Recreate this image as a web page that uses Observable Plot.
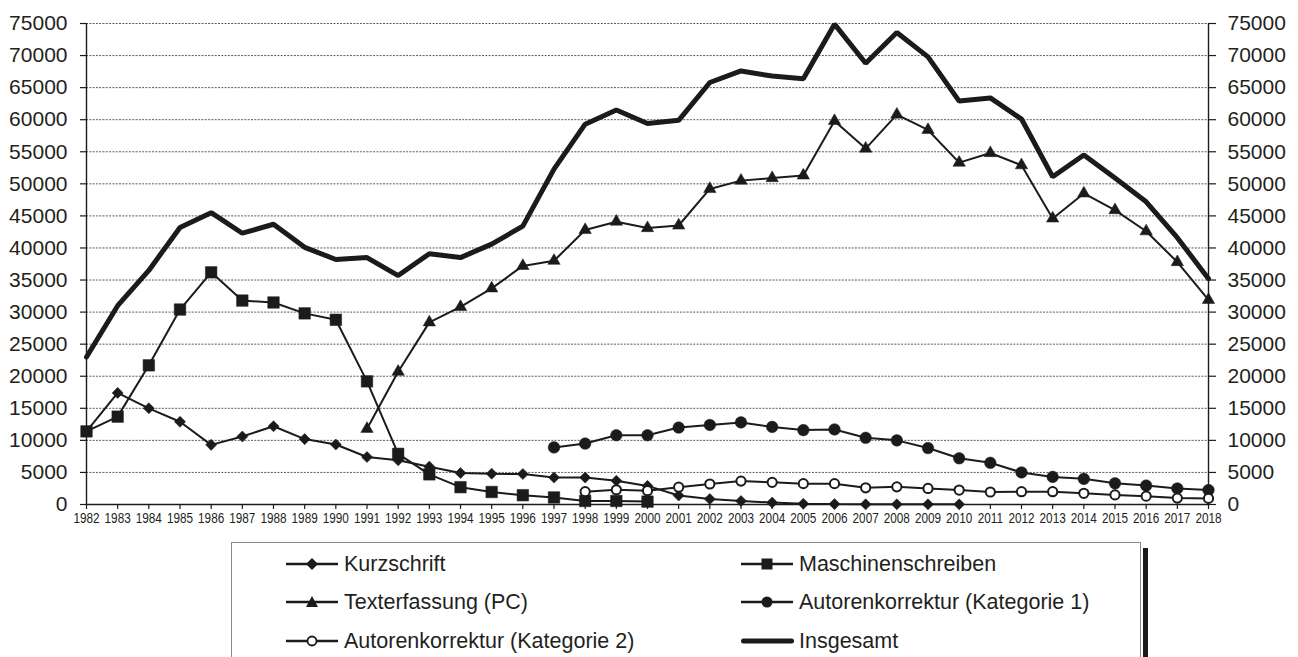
<!DOCTYPE html>
<html>
<head>
<meta charset="utf-8">
<script src="https://cdn.jsdelivr.net/npm/d3@7"></script>
<script src="https://cdn.jsdelivr.net/npm/@observablehq/plot@0.6"></script>
<style>
  html, body { margin: 0; padding: 0; background: #fff; overflow: hidden; }
  body { width: 1298px; height: 657px; position: relative; font-family: "Liberation Sans", Arial, sans-serif; color: #231f20; }
  #chart { position: absolute; left: 0; top: 0; }
  #legend { position: absolute; left: 231px; top: 542px; width: 910px; height: 140px; border: 1px solid #8a8a8a; box-sizing: border-box; }
  #legbar { position: absolute; left: 1143px; top: 548px; width: 5px; height: 120px; background: #1a1a1a; }
  .item { position: absolute; height: 24px; display: flex; align-items: center; font-size: 21.5px; white-space: nowrap; }
  .item svg { display: block; margin-right: 5px; }
</style>
</head>
<body>
<div id="chart"></div>
<div id="legend"></div>
<div id="legbar"></div>
<script>
// ---- data ----
const years = [1982,1983,1984,1985,1986,1987,1988,1989,1990,1991,1992,1993,1994,1995,1996,1997,1998,1999,2000,2001,2002,2003,2004,2005,2006,2007,2008,2009,2010,2011,2012,2013,2014,2015,2016,2017,2018];
const yTicks = [0,5000,10000,15000,20000,25000,30000,35000,40000,45000,50000,55000,60000,65000,70000,75000];

const kurzschrift = [11400,17400,15000,12900,9300,10600,12200,10200,9350,7400,6900,5900,4900,4800,4750,4200,4200,3700,2900,1400,850,550,300,120,60,30,30,30,30,null,null,null,null,null,null,null,null];
const maschinenschreiben = [11400,13700,21700,30400,36200,31800,31500,29800,28800,19200,7900,4700,2700,1950,1450,1100,550,550,450,null,null,null,null,null,null,null,null,null,null,null,null,null,null,null,null,null,null];
const texterfassung = [null,null,null,null,null,null,null,null,null,11800,20700,28400,30800,33700,37200,38000,42800,44100,43100,43500,49200,50500,50900,51300,59800,55500,60800,58400,53300,54800,52900,44600,48500,45900,42600,37800,31900];
const autorenKat1 = [null,null,null,null,null,null,null,null,null,null,null,null,null,null,null,8900,9500,10800,10800,12000,12400,12800,12100,11600,11700,10400,10000,8800,7200,6500,5000,4300,4000,3300,2950,2500,2250];
const autorenKat2 = [null,null,null,null,null,null,null,null,null,null,null,null,null,null,null,null,2000,2300,2150,2700,3200,3650,3450,3250,3250,2600,2750,2500,2250,1950,2000,2000,1750,1500,1300,1000,950];
const insgesamt = [23000,31000,36500,43200,45500,42300,43700,40100,38200,38500,35700,39100,38500,40600,43400,52300,59300,61500,59400,59900,65800,67600,66800,66400,74900,68800,73600,69800,62900,63400,60100,51100,54500,50900,47200,41600,35200];

const seriesNames = ["Kurzschrift","Maschinenschreiben","Texterfassung (PC)","Autorenkorrektur (Kategorie 1)","Autorenkorrektur (Kategorie 2)","Insgesamt"];

const ink = "#1c1a1a";
const toRows = arr => years.map((year, i) => ({year, v: arr[i]})).filter(d => d.v != null);

const kz = toRows(kurzschrift), ms = toRows(maschinenschreiben), tx = toRows(texterfassung),
      k1 = toRows(autorenKat1), k2 = toRows(autorenKat2), ins = toRows(insgesamt);

const lineOpts = {x: "year", y: "v", stroke: ink, strokeWidth: 2, strokeLinejoin: "miter"};

const chart = Plot.plot({
  width: 1298,
  height: 535,
  marginTop: 23,
  marginBottom: 31,
  marginLeft: 86,
  marginRight: 90,
  x: {domain: [1982, 2018], axis: null},
  y: {domain: [0, 75000], axis: null},
  style: {fontFamily: "'Liberation Sans', Arial, sans-serif", color: "#231f20", background: "white", overflow: "visible"},
  marks: [
    Plot.gridY(yTicks, {stroke: "#5a5a5a", strokeOpacity: 1, strokeWidth: 1, strokeDasharray: "2,1.3"}),
    Plot.axisY(yTicks, {anchor: "left", tickSize: 6, tickPadding: 13, fontSize: 21, tickFormat: d => String(d), label: null, stroke: ink, strokeWidth: 1.2}),
    Plot.axisY(yTicks, {anchor: "right", tickSize: 7, tickPadding: 12, fontSize: 21, tickFormat: d => String(d), label: null, stroke: ink, strokeWidth: 1.2}),
    Plot.axisX(years, {anchor: "bottom", tickSize: 5, tickPadding: 2, fontSize: 15.5, tickFormat: d => String(d), label: null, stroke: ink, strokeWidth: 1.2}),
    Plot.ruleX([1982, 2018], {stroke: ink, strokeWidth: 1.4}),
    Plot.ruleY([0], {stroke: ink, strokeWidth: 1.4}),
    // Kurzschrift
    Plot.line(kz, lineOpts),
    Plot.dot(kz, {x: "year", y: "v", symbol: "diamond2", r: 5, fill: ink, stroke: ink, strokeWidth: 0.5}),
    // Maschinenschreiben
    Plot.line(ms, lineOpts),
    Plot.dot(ms, {x: "year", y: "v", symbol: "square", r: 6.5, fill: ink, stroke: ink, strokeWidth: 0.5}),
    // Texterfassung
    Plot.line(tx, lineOpts),
    Plot.dot(tx, {x: "year", y: "v", symbol: "triangle", r: 4.6, fill: ink, stroke: ink, strokeWidth: 0.5}),
    // Autorenkorrektur Kat 1
    Plot.line(k1, lineOpts),
    Plot.dot(k1, {x: "year", y: "v", symbol: "circle", r: 5.8, fill: ink, stroke: ink, strokeWidth: 0.5}),
    // Autorenkorrektur Kat 2
    Plot.line(k2, lineOpts),
    Plot.dot(k2, {x: "year", y: "v", symbol: "circle", r: 4.6, fill: "white", stroke: ink, strokeWidth: 2}),
    // Insgesamt
    Plot.line(ins, {x: "year", y: "v", stroke: ink, strokeWidth: 5, strokeLinejoin: "miter"})
  ]
});
document.getElementById("chart").appendChild(chart);

// condense the year tick labels horizontally (as in the reference)
chart.querySelectorAll('g[aria-label="x-axis tick label"] text').forEach(t => {
  const tr = t.getAttribute("transform") || "";
  t.setAttribute("transform", tr + " scale(0.76,1)");
});

// ---- legend ----
const legend = document.getElementById("legend");
const sw = {
  "Kurzschrift": '<polygon points="26,2 32,8 26,14 20,8" fill="' + ink + '"/>',
  "Maschinenschreiben": '<rect x="20.5" y="2.5" width="11" height="11" fill="' + ink + '"/>',
  "Texterfassung (PC)": '<polygon points="26,2 32,13 20,13" fill="' + ink + '"/>',
  "Autorenkorrektur (Kategorie 1)": '<circle cx="26" cy="8" r="5.5" fill="' + ink + '"/>',
  "Autorenkorrektur (Kategorie 2)": '<circle cx="26" cy="8" r="4.5" fill="white" stroke="' + ink + '" stroke-width="1.8"/>',
  "Insgesamt": ''
};
const pos = [
  [286, 564], [741, 564],
  [286, 602], [741, 602],
  [286, 641], [741, 641]
];
seriesNames.forEach((name, i) => {
  const [x, y] = pos[i];
  const div = document.createElement("div");
  div.className = "item";
  div.style.left = (x - 231 - 1) + "px";
  div.style.top = (y - 542 - 1 - 12) + "px";
  const thick = name === "Insgesamt";
  div.innerHTML = '<svg width="53" height="16" viewBox="0 0 53 16"><line x1="' + (thick ? 2.5 : 0) + '" y1="8" x2="' + (thick ? 50.5 : 52) + '" y2="8" stroke="' + ink + '" stroke-width="' + (thick ? 5 : 2.4) + '" stroke-linecap="' + (thick ? "round" : "butt") + '"/>' + sw[name] + '</svg><span>' + name + '</span>';
  legend.appendChild(div);
});
</script>
</body>
</html>
